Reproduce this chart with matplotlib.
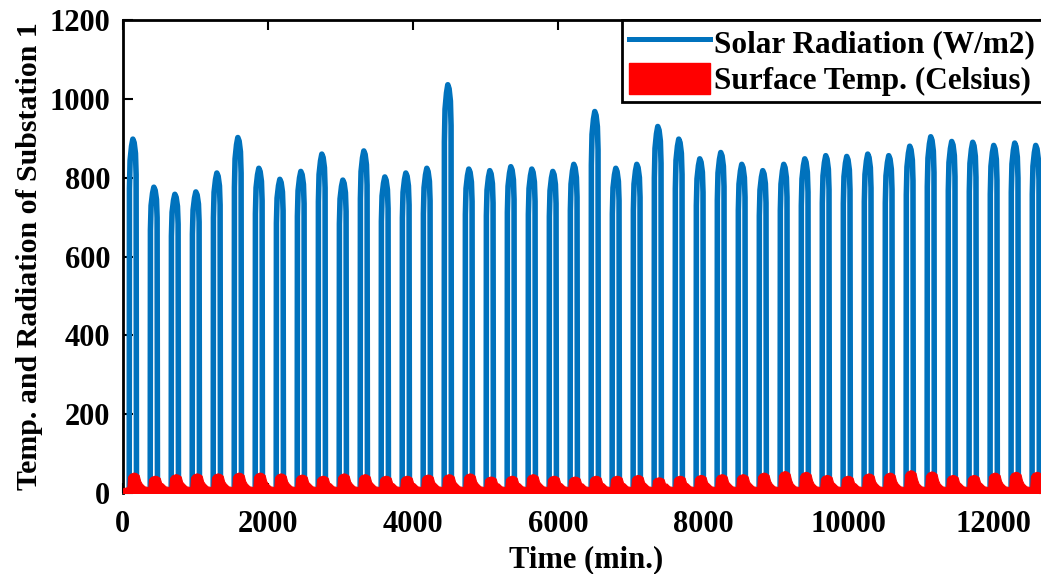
import matplotlib
matplotlib.use("Agg")
import matplotlib.pyplot as plt
from matplotlib.patches import Patch
from matplotlib.lines import Line2D

# -------------------------------------------------
# Data
# -------------------------------------------------
# one entry per day (44 days visible)
solar_peaks = [898, 776, 758, 764, 812, 902, 824, 796, 816, 860,
               794, 868, 802, 812, 824, 1036, 822, 818, 828, 822,
               816, 834, 968, 824, 834, 930, 898, 848, 864, 834,
               818, 834, 848, 856, 854, 860, 856, 880, 904, 892,
               890, 882, 888, 882]

temp_peaks = [52, 44, 48, 50, 50, 52, 52, 50, 47, 44,
              50, 48, 44, 44, 47, 48, 50, 42, 44, 48,
              44, 42, 44, 44, 46, 40, 44, 46, 48, 48,
              52, 56, 54, 46, 44, 50, 52, 58, 55, 46,
              46, 52, 54, 54]

# centre of each daylight band (min.)
day_centers = [138 + 289.5 * k for k in range(len(solar_peaks))]

# shape of one day around its centre: offsets (min.) and share of the peak
solar_offsets = [-50, -47, -38, -18, 0, 18, 36, 45, 50]
solar_shares = [0.0, 0.86, 0.94, 0.98, 1.0, 0.99, 0.96, 0.9, 0.0]

temp_offsets = [-75, -66, -40, 10, 45, 80, 100, 122, 160]
temp_shares = [None, 0.8, 0.93, 1.0, 0.97, 0.88, 0.6, None, None]
temp_fixed = [15, None, None, None, None, None, None, 24, 17]
temp_start = 12

# -------------------------------------------------
# Build the time series
# -------------------------------------------------
t_sol, v_sol = [0.0], [0.0]
for c, p in zip(day_centers, solar_peaks):
    for o, s in zip(solar_offsets, solar_shares):
        t_sol.append(c + o)
        v_sol.append(p * s)
t_sol.append(12800)
v_sol.append(0.0)

t_tmp, v_tmp = [0.0], [temp_start]
for c, p in zip(day_centers, temp_peaks):
    for o, s, f in zip(temp_offsets, temp_shares, temp_fixed):
        t_tmp.append(c + o)
        v_tmp.append(f if s is None else p * s)
t_tmp.append(12800)
v_tmp.append(15)

# -------------------------------------------------
# Plot
# -------------------------------------------------
plt.rcParams["font.family"] = "Liberation Serif"
plt.rcParams["font.weight"] = "bold"

blue = "#0072BD"
red = "#FF0000"
fs = 22

fig = plt.figure(figsize=(10.41, 5.74), dpi=100)
ax = fig.add_axes([0.118, 0.141, 0.8897, 0.8240])

ax.plot(t_sol, v_sol, color=blue, linewidth=4.0, zorder=2)
ax.fill_between(t_tmp, 0, v_tmp, color=red, linewidth=0.8,
                edgecolor=red, zorder=3)

ax.set_xlim(0, 12770)
ax.set_ylim(0, 1200)
ax.set_xticks(range(0, 12001, 2000))
ax.set_yticks(range(0, 1201, 200))

ax.set_axisbelow(True)
ax.tick_params(direction="in", length=7, width=1.5, top=True, right=True,
               labelsize=fs)
ax.tick_params(axis="x", pad=12)
ax.tick_params(axis="y", pad=9)
for name in ["left", "top", "right"]:
    ax.spines[name].set_linewidth(2)
ax.spines["bottom"].set_visible(False)

ax.set_xlabel("Time (min.)", fontsize=fs, fontweight="bold", labelpad=5)
ax.set_ylabel("Temp. and Radiation of Substation 1", fontsize=21.5,
              fontweight="bold", labelpad=5)

handles = [
    Line2D([], [], color=blue, linewidth=3.6),
    Patch(facecolor=red, edgecolor=red),
]
leg = ax.legend(
    handles,
    ["Solar Radiation (W/m2)", "Surface Temp. (Celsius)"],
    loc="upper right",
    bbox_to_anchor=(0.992, 1.0),
    borderaxespad=0,
    handlelength=2.6,
    handleheight=1.15,
    handletextpad=0.15,
    labelspacing=0.1,
    borderpad=0.2,
    fancybox=False,
    framealpha=1,
    edgecolor="black",
    prop={"weight": "bold", "size": 22.5},
)
leg.get_frame().set_linewidth(2)
leg.set_zorder(5)

fig.savefig("out.png", dpi=100)
